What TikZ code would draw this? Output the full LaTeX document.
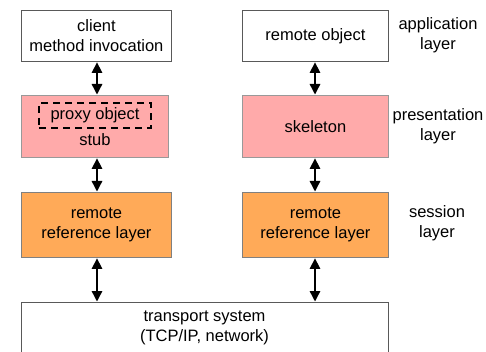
\documentclass[tikz,border=0pt]{standalone}
\usepackage{fontspec}
\setmainfont{Liberation Sans}
\usetikzlibrary{arrows.meta}
\definecolor{stubpink}{HTML}{FFAAAA}
\definecolor{refor}{HTML}{FFAA58}
\begin{document}
\begin{tikzpicture}[x=1pt,y=-1pt,
  box/.style={draw=black!65,line width=0.9pt,inner sep=0pt,anchor=north west,font=\fontsize{16.5}{20}\selectfont,align=center},
  lbl/.style={font=\fontsize{16.5}{20}\selectfont,align=center},
  link/.style={line width=1.4pt,{Triangle[width=10.5pt,length=10.5pt]}-{Triangle[width=10.5pt,length=10.5pt]},shorten <=0.5pt,shorten >=0.5pt}]
\useasboundingbox (0,0) rectangle (486,352);
\begin{scope}
\clip (0,0) rectangle (486,352);
% client side
\node[box,minimum width=150pt,minimum height=51pt] (cli) at (21,10) {client\\method invocation};
\node[box,fill=stubpink,draw=black!40,minimum width=147pt,minimum height=62pt] (stub) at (21,95) {};
\node[draw,dashed,line width=1.6pt,dash pattern=on 7pt off 5pt,minimum width=112pt,minimum height=25pt,inner sep=0pt,font=\fontsize{16.5}{20}\selectfont] (proxy) at (95,115.5) {proxy object};
\node[lbl] (stubtxt) at (95,140) {stub};
\node[box,fill=refor,draw=black!50,minimum width=150pt,minimum height=65pt] (rrl) at (21,192) {remote\\reference layer};
% server side
\node[box,minimum width=146pt,minimum height=51pt] (robj) at (242,10) {remote object};
\node[box,fill=stubpink,draw=black!40,minimum width=146pt,minimum height=62pt] (skel) at (242,95) {skeleton};
\node[box,fill=refor,draw=black!50,minimum width=146pt,minimum height=65pt] (rrr) at (242,192) {remote\\reference layer};
% transport
\node[box,minimum width=367pt,minimum height=70pt] (trans) at (21,302) {};
\node[lbl] (transtxt) at (204.5,328) {transport system\\(TCP/IP, network)};
\end{scope}
% layer names
\node[lbl] (app) at (438,35) {application\\layer};
\node[lbl] (pres) at (438,126) {presentation\\layer};
\node[lbl] (sess) at (437,223) {session\\layer};
% connectors
\draw[link] (cli.south -| 97,0) -- (stub.north -| 97,0);
\draw[link] (stub.south -| 97,0) -- (rrl.north -| 97,0);
\draw[link] (rrl.south -| 97,0) -- (trans.north -| 97,0);
\draw[link] (robj.south -| 315,0) -- (skel.north -| 315,0);
\draw[link] (skel.south -| 315,0) -- (rrr.north -| 315,0);
\draw[link] (rrr.south -| 315,0) -- (trans.north -| 315,0);
\end{tikzpicture}
\end{document}
